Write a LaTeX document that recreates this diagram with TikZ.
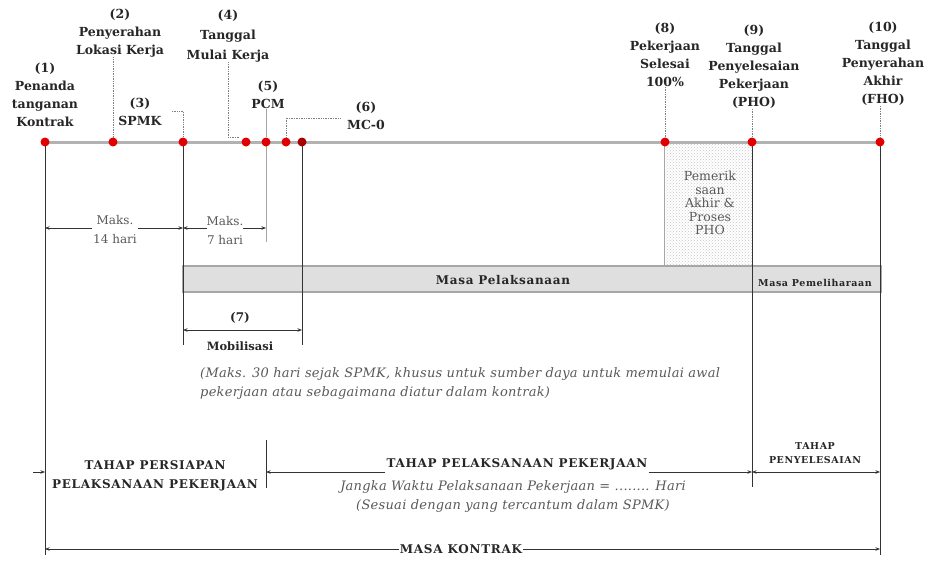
\documentclass[tikz,border=0pt]{standalone}
\usepackage{fontspec}
\setmainfont{DejaVu Serif}
\newfontfamily\labfont{DejaVu Serif}
\newfontfamily\capfont{DejaVu Serif}[LetterSpace=6]
\newfontfamily\notefont{DejaVu Serif}[LetterSpace=2]
\usetikzlibrary{arrows.meta,patterns,calc}
\begin{document}
\begin{tikzpicture}[x=1pt,y=-1pt,
  lbl/.style={font=\labfont\bfseries\fontsize{12.5}{18}\selectfont, align=center, inner sep=0pt, text=black!85},
  dotnode/.style={circle, fill=red!88!black, minimum size=9pt, inner sep=0pt},
  lead/.style={densely dotted, gray, line width=0.7pt},
  vline/.style={black!80, line width=1pt},
  dim/.style={{Stealth[length=4.5pt,width=3.5pt]}-{Stealth[length=4.5pt,width=3.5pt]}, black!80, line width=0.7pt},
  arr/.style={-{Stealth[length=4.5pt,width=3.5pt]}, black!80, line width=0.7pt},
  plain/.style={font=\fontsize{12.5}{13.5}\selectfont, text=black!65, align=center, inner sep=1pt},
  note/.style={font=\notefont\itshape\fontsize{13}{19}\selectfont, text=black!65, inner sep=0pt},
  big/.style={font=\capfont\bfseries\fontsize{12}{19}\selectfont, text=black!85, align=center, inner sep=1pt},
  small/.style={font=\capfont\bfseries\fontsize{9.5}{14}\selectfont, text=black!85, align=center, inner sep=0pt}
]
\useasboundingbox (0,0) rectangle (932,563);

% hatched box
\fill[pattern=crosshatch dots, pattern color=gray!45] (664,142) rectangle (752,266);
\draw[gray!70, line width=0.7pt] (664,142) -- (664,266);
\node[plain] (pem) at (710,203) {Pemerik\\saan\\Akhir \&\\Proses\\PHO};

% bar
\node[draw=gray!70, fill=gray!25, line width=1.2pt, minimum width=698pt, minimum height=26pt, inner sep=0pt] (bar) at (532,279) {};
\node[font=\capfont\bfseries\fontsize{12}{14}\selectfont, text=black!85] (mp) at (503,280) {Masa Pelaksanaan};
\node[font=\capfont\bfseries\fontsize{9.5}{11}\selectfont, text=black!85] (mpm) at (815,283) {Masa Pemeliharaan};

% timeline
\coordinate (p1) at (45,142);
\coordinate (p2) at (113,142);
\coordinate (p3) at (183,142);
\coordinate (p4) at (246,142);
\coordinate (p5) at (266,142);
\coordinate (p6) at (286,142);
\coordinate (p7) at (302,142);
\coordinate (p8) at (665,142);
\coordinate (p9) at (752,142);
\coordinate (p10) at (880,142);
\draw[gray!60, line width=3pt] (p1) -- (p10);

% vertical lines
\coordinate (b1) at (45,555);
\coordinate (b3) at (183,345);
\coordinate (b5) at (266,242);
\coordinate (b7) at (302,345);
\coordinate (b9) at (752,487);
\coordinate (b10) at (880,555);
\draw[vline] (p1) -- (b1);
\draw[vline] (p3) -- (b3);
\draw[gray!70, line width=1pt] (p5) -- (b5);
\draw[vline] (p7) -- (b7);
\draw[vline] (p9) -- (b9);
\draw[vline] (p10) -- (b10);

% dots
\foreach \p in {p1,p2,p3,p4,p5,p6,p8,p9,p10}{\node[dotnode] (d\p) at (\p) {};}
\node[dotnode, fill=red!65!black] (dp7) at (p7) {};

% top labels
\node[lbl] (l1) at (45,95) {(1)\\Penanda\\tanganan\\Kontrak};
\node[lbl] (l2) at (120,33) {(2)\\Penyerahan\\Lokasi Kerja};
\node[lbl] (l3) at (140,112) {(3)\\SPMK};
\node[lbl, font=\labfont\bfseries\fontsize{12.5}{20}\selectfont] (l4) at (228,36) {(4)\\Tanggal\\Mulai Kerja};
\node[lbl] (l5) at (268,95) {(5)\\PCM};
\node[lbl] (l6) at (366,116) {(6)\\MC-0};
\node[lbl] (l8) at (665,55) {(8)\\Pekerjaan\\Selesai\\100\%};
\node[lbl] (l9) at (754,67) {(9)\\Tanggal\\Penyelesaian\\Pekerjaan\\(PHO)};
\node[lbl] (l10) at (883,64) {(10)\\Tanggal\\Penyerahan\\Akhir\\(FHO)};

% leaders
\draw[lead] (l2.south -| p2) -- (dp2);
\coordinate (c3) at (172,111);
\draw[lead] (c3) -| (dp3);
\coordinate (c4) at (240,137);
\draw[lead] (l4.south) |- (c4);
\draw[gray!70, line width=1pt] (l5.south -| p5) -- (dp5);
\coordinate (c6) at (340,118);
\draw[lead] (dp6) |- (c6);
\draw[lead] (l8.south) -- (dp8);
\draw[lead] (l9.south -| p9) -- (dp9);
\draw[lead] (l10.south -| p10) -- (dp10);

% Maks dimensions
\coordinate (m1) at (45,228);
\coordinate (m3) at (183,228);
\coordinate (m5) at (266,228);
\draw[dim] (m1) -- (m3);
\draw[dim] (m3) -- (m5);
\node[plain, fill=white, font=\fontsize{12}{19}\selectfont] (mk14) at (115,230) {Maks.\\14 hari};
\node[plain, fill=white, inner sep=0pt, font=\fontsize{12}{19}\selectfont] (mk7) at (225,231) {Maks.\\7 hari};

% Mobilisasi
\coordinate (mo1) at (183,330);
\coordinate (mo2) at (302,330);
\draw[dim] (mo1) -- (mo2);
\node[lbl, font=\labfont\bfseries\fontsize{12}{18}\selectfont] (l7) at (240,318) {(7)};
\node[lbl, font=\labfont\bfseries\fontsize{11.5}{18}\selectfont] (mob) at (240,346) {Mobilisasi};
\node[note, anchor=west, align=left] (n7) at (200,383) {(Maks. 30 hari sejak SPMK, khusus untuk sumber daya untuk memulai awal\\pekerjaan atau sebagaimana diatur dalam kontrak)};

% bottom phases
\coordinate (a0) at (33,472);
\draw[arr] (a0) -- (p1 |- a0);
\node[big] (tp) at (155,476) {TAHAP PERSIAPAN\\PELAKSANAAN PEKERJAAN};
\coordinate (s1) at (266,440);
\coordinate (s2) at (266,488);
\draw[vline] (s1) -- (s2);
\node[big] (tpp) at (517,464) {TAHAP PELAKSANAAN PEKERJAAN};
\draw[arr] (tpp.south west |- 0,472) -- (266,472);
\draw[arr] (tpp.south east |- 0,472) -- (752,472);
\node[note, align=center] (jw) at (513,496) {Jangka Waktu Pelaksanaan Pekerjaan = ........ Hari\\(Sesuai dengan yang tercantum dalam SPMK)};
\node[small] (tps) at (815,453) {TAHAP\\PENYELESAIAN};
\draw[dim] (752,472) -- (880,472);

% masa kontrak
\node[big] (mk) at (461,549) {MASA KONTRAK};
\draw[arr] (mk.west) -- (p1 |- mk);
\draw[arr] (mk.east) -- (p10 |- mk);
\end{tikzpicture}
\end{document}
